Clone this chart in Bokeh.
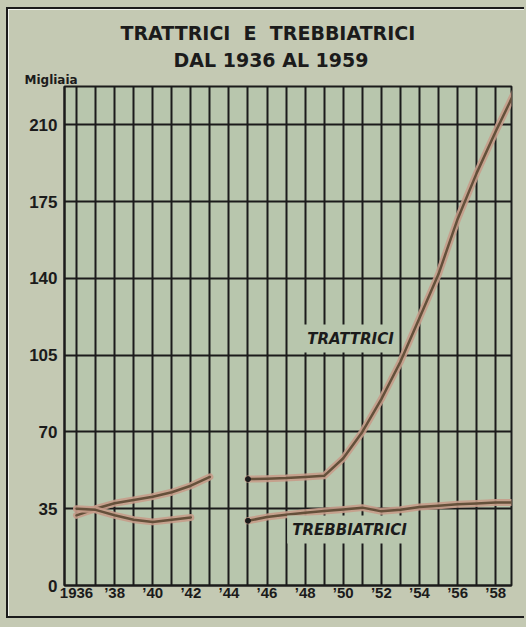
from bokeh.plotting import figure
from bokeh.models import FixedTicker, Label, Range1d, Title
from bokeh.embed import file_html
from bokeh.resources import INLINE

nan = float("nan")
years = list(range(1936, 1960))
trattrici = [32, 35, 37.5, 39, 40.5, 42.5, 45.5, 49.5, nan,
             48.5, 48.7, 49, 49.5, 50, 58, 70, 85, 102, 122, 142, 167, 188, 207, 225]
trebbiatrici = [35, 34.5, 32, 30, 29, 30, 31, nan, nan,
                29.5, 31.2, 32.3, 33.2, 34, 34.7, 35.5, 33.8, 34.5, 35.8, 36.4, 37, 37.4, 37.8, 37.8]
x_ticks = years[0:23:2]
x_tick_labels = ["1936"] + ["\u2019" + str(y)[2:] for y in x_ticks[1:]]
y_ticks = [0, 35, 70, 105, 140, 175, 210]
title_lines = ["TRATTRICI\u00a0\u00a0E\u00a0\u00a0TREBBIATRICI", "DAL 1936 AL 1959"]
unit_label = "Migliaia"
series_names = ["TRATTRICI", "TREBBIATRICI"]

INK = "#1b1b1b"
OUTER = "#c4c9b3"
INNER = "#b8c6ad"
HALO = "#c79c8a"
CORE = "#64503a"

p = figure(width=518, height=611, output_backend="svg", toolbar_location=None,
           x_range=Range1d(1935.37, 1958.83), y_range=Range1d(0, 227.5),
           min_border_left=56, min_border_right=15, min_border_top=77, min_border_bottom=35)
p.styles = {"margin-left": "6px", "margin-top": "7px",
            "border-left": f"2px solid {INK}", "border-top": f"2px solid {INK}",
            "border-bottom": f"2px solid {INK}", "box-shadow": f"0 0 0 9px {OUTER}"}
p.background_fill_color = INNER
p.border_fill_color = OUTER
p.outline_line_color = INK
p.outline_line_width = 2

# axes
p.xaxis.ticker = FixedTicker(ticks=x_ticks)
p.xaxis.major_label_overrides = {t: l for t, l in zip(x_ticks, x_tick_labels)}
p.yaxis.ticker = FixedTicker(ticks=y_ticks)
for ax in (p.xaxis, p.yaxis):
    ax.axis_line_color = INK
    ax.axis_line_width = 2
    ax.major_tick_line_color = None
    ax.minor_tick_line_color = None
    ax.major_tick_out = 0
    ax.major_tick_in = 0
    ax.minor_tick_out = 0
    ax.minor_tick_in = 0
    ax.major_label_text_color = INK
    ax.major_label_text_font = "Liberation Sans"
    ax.major_label_text_font_style = "bold"
p.xaxis.major_label_text_font_size = "15px"
p.xaxis.major_label_standoff = -2
p.yaxis.major_label_text_font_size = "17px"
p.yaxis.major_label_standoff = 7

# grids
p.xgrid.ticker = FixedTicker(ticks=years[:-1])
p.ygrid.ticker = FixedTicker(ticks=y_ticks)
for g in (p.xgrid, p.ygrid):
    g.grid_line_color = INK
    g.grid_line_width = 2
    g.grid_line_alpha = 1

# series labels (with background boxes that mask the grid)
for name, (lx, ly) in zip(series_names, [(1950.38, 112.6), (1950.33, 25.5)]):
    p.add_layout(Label(x=lx, y=ly, text=name, text_align="center", text_baseline="middle",
                       text_font="DejaVu Sans", text_font_style="bold italic",
                       text_font_size="15px", text_color=INK,
                       background_fill_color=INNER, padding=5))

# lines
for vals in (trattrici, trebbiatrici):
    p.line(years, vals, line_color=HALO, line_width=7, line_alpha=0.9, line_cap="round", line_join="round")
    p.line(years, vals, line_color=CORE, line_width=2.5, line_cap="round", line_join="round")
i45 = years.index(1945)
p.scatter([years[i45], years[i45]], [trattrici[i45], trebbiatrici[i45]], size=5, color=INK)

# unit label and two-line title, stacked above the frame (first added = nearest)
p.add_layout(Title(text=unit_label, align="left", offset=-40, standoff=0,
                   text_font="DejaVu Sans", text_font_style="bold",
                   text_font_size="12px", text_color=INK), "above")
p.add_layout(Title(text=title_lines[1], align="left", offset=109, standoff=0,
                   text_font="DejaVu Sans", text_font_style="bold",
                   text_font_size="19px", text_color=INK), "above")
p.add_layout(Title(text=title_lines[0], align="left", offset=56, standoff=5,
                   text_font="DejaVu Sans", text_font_style="bold",
                   text_font_size="19px", text_color=INK), "above")

open("out.html", "w").write(file_html(p, INLINE))
